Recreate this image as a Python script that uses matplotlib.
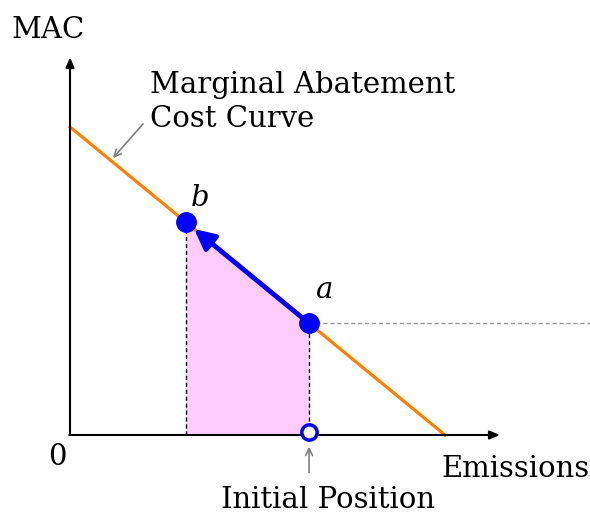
import matplotlib
matplotlib.use('Agg')
import matplotlib.pyplot as plt
from matplotlib.patches import FancyArrowPatch

# Curve and point values (MAC intercept, emissions where MAC is zero)
mac_intercept = 10.0
emissions_max = 12.0
x_b = 3.7   # point b (after abatement)
x_a = 7.65  # point a (initial emissions)

def mac(x):
    return mac_intercept - mac_intercept / emissions_max * x

plt.rcParams['font.family'] = ['DejaVu Serif']
fs = 21

fig = plt.figure(figsize=(5.9, 5.17), dpi=100)
ax = fig.add_axes([0, 0, 1, 1])
ax.set_xlim(-2.24, 16.64)
ax.set_ylim(-2.662, 14.123)
ax.axis('off')

# Shaded area under the curve between b and a
ax.fill_between([x_b, x_a], [mac(x_b), mac(x_a)], 0, color='#ffccff', lw=0, zorder=1)

# Dotted drop lines
ax.plot([x_b, x_b], [0, mac(x_b)], color='black', ls=(0, (3, 2)), lw=1.0, zorder=2)
ax.plot([x_a, x_a], [0, mac(x_a)], color='black', ls=(0, (3, 2)), lw=1.0, zorder=2)

# Gray dashed line from a to the right
ax.plot([x_a, 16.64], [mac(x_a), mac(x_a)], color='#999999', ls=(0, (3, 2)), lw=1.0, zorder=2)

# Marginal abatement cost curve
ax.plot([0, emissions_max], [mac(0), mac(emissions_max)], color='#ff7f00', lw=2.3, zorder=3)

# Axes with arrows
ax.annotate('', xy=(0, 12.27), xytext=(0, 0),
            arrowprops=dict(arrowstyle='-|>,head_length=0.6,head_width=0.25', color='black', lw=1.5,
                            shrinkA=0, shrinkB=0), zorder=4)
ax.annotate('', xy=(13.76, 0), xytext=(-0.025, 0),
            arrowprops=dict(arrowstyle='-|>,head_length=0.6,head_width=0.25', color='black', lw=1.5,
                            shrinkA=0, shrinkB=0), zorder=4)

# Blue arrow from a to b
arr = FancyArrowPatch((x_a, mac(x_a)), (x_b, mac(x_b)),
                      arrowstyle='-|>,head_length=0.6,head_width=0.3', mutation_scale=20,
                      color='blue', lw=3.5, shrinkA=0, shrinkB=8, zorder=7)
ax.add_patch(arr)

# Points
ax.plot([x_b, x_a], [mac(x_b), mac(x_a)], 'o', color='blue', ms=14, zorder=6)
ax.plot([x_a], [0.1], 'o', mfc='white', mec='blue', mew=2.5, ms=11, zorder=6)

# Labels
ax.text(-1.86, 12.89, 'MAC', fontsize=fs, ha='left', va='baseline')
ax.text(-0.42, -0.97, '0', fontsize=fs, ha='center', va='baseline')
ax.text(11.9, -1.36, 'Emissions', fontsize=fs, ha='left', va='baseline')
ax.text(8.26, -2.37, 'Initial Position', fontsize=fs, ha='center', va='baseline')
ax.text(2.56, 11.10, 'Marginal Abatement', fontsize=fs, ha='left', va='baseline')
ax.text(2.56, 10.0, 'Cost Curve', fontsize=fs, ha='left', va='baseline')
ax.text(x_b + 0.46, mac(x_b) + 0.52, 'b', fontsize=fs, style='italic', ha='center', va='baseline')
ax.text(x_a + 0.48, mac(x_a) + 0.83, 'a', fontsize=fs, style='italic', ha='center', va='baseline')

# Gray pointer arrows
ax.annotate('', xy=(1.376, 8.99), xytext=(2.336, 10.10),
            arrowprops=dict(arrowstyle='->,head_length=0.5,head_width=0.25', color='gray', lw=1.2,
                            shrinkA=0, shrinkB=0))
ax.annotate('', xy=(x_a, -0.38), xytext=(x_a, -1.22),
            arrowprops=dict(arrowstyle='->,head_length=0.5,head_width=0.25', color='gray', lw=1.2,
                            shrinkA=0, shrinkB=0))

fig.savefig('out.png', dpi=100)
